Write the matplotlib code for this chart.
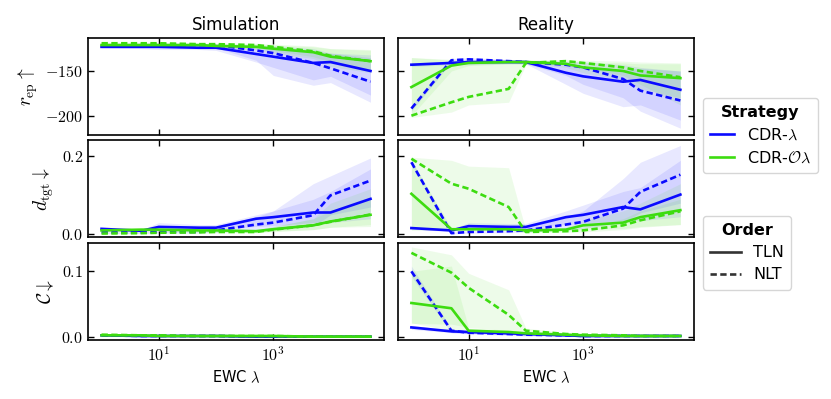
import math
import matplotlib
matplotlib.use("Agg")
import matplotlib.pyplot as plt
from matplotlib.ticker import FixedLocator, FuncFormatter, NullLocator
from matplotlib.lines import Line2D

plt.rcParams['font.family'] = ['DejaVu Sans']
plt.rcParams['mathtext.fontset'] = 'cm'

x = [1, 5, 10, 50, 100, 500, 1000, 5000, 10000, 50000]
columns = ["Simulation", "Reality"]
strategies = ["CDR-$\\lambda$", "CDR-$\\mathcal{O}\\lambda$"]
orders = ["TLN", "NLT"]

# ---- Simulation, r_ep ----
sim_rep_lam_tln = [-123, -123, -123, -124, -124, -131, -134, -141, -140, -150]
sim_rep_lam_tln_lo = [-124, -125, -126, -126, -127, -140, -146, -160, -156, -177]
sim_rep_lam_tln_hi = [-122, -121, -121, -121, -121, -124, -125, -128, -130, -132]
sim_rep_lam_nlt = [-122, -121, -121, -121, -121, -127, -130, -141, -147, -162]
sim_rep_lam_nlt_lo = [-123, -122, -123, -122, -124, -138, -155, -166, -163, -185]
sim_rep_lam_nlt_hi = [-120, -120, -120, -120, -120, -121, -122, -125, -130, -135]
sim_rep_ol_tln = [-121, -121, -121, -121, -122, -123, -125, -129, -134, -139]
sim_rep_ol_tln_lo = [-122, -122, -123, -123, -124, -126, -130, -136, -145, -152]
sim_rep_ol_tln_hi = [-120, -120, -120, -120, -120, -120, -121, -123, -125, -126]
sim_rep_ol_nlt = [-119, -119, -119, -120, -120, -121, -123, -128, -133, -139]
sim_rep_ol_nlt_lo = [-120, -120, -121, -121, -122, -124, -127, -134, -140, -150]
sim_rep_ol_nlt_hi = [-118, -118, -118, -119, -119, -119, -120, -122, -125, -127]

# ---- Reality, r_ep ----
real_rep_lam_tln = [-143, -141, -140, -140, -140, -152, -156, -162, -160, -171]
real_rep_lam_tln_lo = [-145, -143, -143, -142, -142, -165, -175, -190, -188, -205]
real_rep_lam_tln_hi = [-141, -139, -138, -138, -138, -142, -145, -148, -147, -150]
real_rep_lam_nlt = [-192, -138, -137, -139, -140, -143, -146, -159, -172, -183]
real_rep_lam_nlt_lo = [-195, -140, -139, -141, -142, -155, -165, -180, -195, -214]
real_rep_lam_nlt_hi = [-189, -136, -135, -137, -138, -139, -140, -143, -146, -150]
real_rep_ol_tln = [-168, -144, -141, -140, -140, -142, -146, -150, -155, -158]
real_rep_ol_tln_lo = [-200, -150, -144, -142, -142, -146, -152, -160, -170, -180]
real_rep_ol_tln_hi = [-135, -138, -139, -138, -138, -139, -140, -141, -142, -142]
real_rep_ol_nlt = [-200, -185, -179, -170, -141, -139, -141, -146, -150, -157]
real_rep_ol_nlt_lo = [-202, -196, -188, -185, -143, -142, -146, -155, -165, -188]
real_rep_ol_nlt_hi = [-135, -137, -137, -138, -138, -137, -138, -139, -140, -141]

# ---- Simulation, d_tgt ----
sim_d_lam_tln = [0.014, 0.009, 0.019, 0.017, 0.017, 0.040, 0.044, 0.056, 0.056, 0.091]
sim_d_lam_tln_lo = [0.010, 0.006, 0.012, 0.012, 0.012, 0.020, 0.022, 0.030, 0.030, 0.040]
sim_d_lam_tln_hi = [0.018, 0.012, 0.030, 0.025, 0.025, 0.050, 0.060, 0.090, 0.110, 0.168]
sim_d_lam_nlt = [0.005, 0.005, 0.006, 0.006, 0.010, 0.025, 0.030, 0.049, 0.100, 0.138]
sim_d_lam_nlt_lo = [0.003, 0.003, 0.004, 0.004, 0.005, 0.010, 0.012, 0.020, 0.050, 0.070]
sim_d_lam_nlt_hi = [0.008, 0.008, 0.010, 0.010, 0.020, 0.045, 0.060, 0.130, 0.150, 0.196]
sim_d_ol_tln = [0.010, 0.012, 0.012, 0.010, 0.010, 0.008, 0.013, 0.023, 0.033, 0.050]
sim_d_ol_tln_lo = [0.007, 0.009, 0.009, 0.007, 0.007, 0.005, 0.008, 0.012, 0.018, 0.020]
sim_d_ol_tln_hi = [0.013, 0.015, 0.015, 0.013, 0.013, 0.012, 0.020, 0.040, 0.080, 0.117]
sim_d_ol_nlt = [0.002, 0.003, 0.004, 0.005, 0.006, 0.006, 0.012, 0.023, 0.032, 0.051]
sim_d_ol_nlt_lo = [0.001, 0.002, 0.003, 0.003, 0.004, 0.004, 0.007, 0.012, 0.018, 0.025]
sim_d_ol_nlt_hi = [0.004, 0.005, 0.006, 0.007, 0.008, 0.010, 0.020, 0.040, 0.060, 0.090]

# ---- Reality, d_tgt ----
real_d_lam_tln = [0.016, 0.010, 0.021, 0.019, 0.019, 0.044, 0.050, 0.070, 0.064, 0.102]
real_d_lam_tln_lo = [0.013, 0.007, 0.014, 0.013, 0.013, 0.025, 0.028, 0.035, 0.035, 0.045]
real_d_lam_tln_hi = [0.019, 0.013, 0.030, 0.028, 0.028, 0.060, 0.075, 0.110, 0.120, 0.190]
real_d_lam_nlt = [0.185, 0.003, 0.006, 0.008, 0.010, 0.025, 0.032, 0.066, 0.109, 0.153]
real_d_lam_nlt_lo = [0.180, 0.001, 0.003, 0.004, 0.005, 0.012, 0.015, 0.030, 0.055, 0.080]
real_d_lam_nlt_hi = [0.190, 0.005, 0.010, 0.012, 0.020, 0.045, 0.060, 0.143, 0.185, 0.228]
real_d_ol_tln = [0.104, 0.013, 0.013, 0.013, 0.010, 0.012, 0.023, 0.030, 0.044, 0.062]
real_d_ol_tln_lo = [0.020, 0.010, 0.010, 0.010, 0.007, 0.008, 0.012, 0.015, 0.020, 0.025]
real_d_ol_tln_hi = [0.190, 0.016, 0.016, 0.016, 0.013, 0.018, 0.035, 0.060, 0.080, 0.130]
real_d_ol_nlt = [0.194, 0.130, 0.117, 0.070, 0.006, 0.008, 0.010, 0.023, 0.036, 0.059]
real_d_ol_nlt_lo = [0.010, 0.012, 0.012, 0.012, 0.004, 0.005, 0.006, 0.012, 0.018, 0.025]
real_d_ol_nlt_hi = [0.198, 0.190, 0.175, 0.171, 0.010, 0.012, 0.018, 0.040, 0.060, 0.090]

# ---- Simulation, C ----
sim_c_lam_tln = [0.003, 0.002, 0.002, 0.002, 0.002, 0.001, 0.001, 0.001, 0.001, 0.001]
sim_c_lam_tln_lo = [0.002, 0.001, 0.001, 0.001, 0.001, 0.000, 0.000, 0.000, 0.000, 0.000]
sim_c_lam_tln_hi = [0.004, 0.003, 0.003, 0.003, 0.003, 0.002, 0.002, 0.002, 0.002, 0.002]
sim_c_lam_nlt = [0.003, 0.002, 0.002, 0.002, 0.002, 0.001, 0.001, 0.001, 0.001, 0.001]
sim_c_lam_nlt_lo = [0.002, 0.001, 0.001, 0.001, 0.001, 0.000, 0.000, 0.000, 0.000, 0.000]
sim_c_lam_nlt_hi = [0.004, 0.003, 0.003, 0.003, 0.003, 0.002, 0.002, 0.002, 0.002, 0.002]
sim_c_ol_tln = [0.003, 0.003, 0.002, 0.002, 0.002, 0.002, 0.002, 0.001, 0.001, 0.001]
sim_c_ol_tln_lo = [0.002, 0.002, 0.001, 0.001, 0.001, 0.001, 0.001, 0.000, 0.000, 0.000]
sim_c_ol_tln_hi = [0.004, 0.004, 0.003, 0.003, 0.003, 0.003, 0.003, 0.002, 0.002, 0.002]
sim_c_ol_nlt = [0.004, 0.003, 0.003, 0.002, 0.002, 0.002, 0.002, 0.001, 0.001, 0.001]
sim_c_ol_nlt_lo = [0.003, 0.002, 0.002, 0.001, 0.001, 0.001, 0.001, 0.000, 0.000, 0.000]
sim_c_ol_nlt_hi = [0.005, 0.004, 0.004, 0.003, 0.003, 0.003, 0.003, 0.002, 0.002, 0.002]

# ---- Reality, C ----
real_c_lam_tln = [0.015, 0.009, 0.008, 0.006, 0.005, 0.003, 0.002, 0.002, 0.002, 0.002]
real_c_lam_tln_lo = [0.012, 0.007, 0.006, 0.004, 0.003, 0.002, 0.001, 0.001, 0.001, 0.001]
real_c_lam_tln_hi = [0.018, 0.011, 0.010, 0.008, 0.007, 0.004, 0.003, 0.003, 0.003, 0.003]
real_c_lam_nlt = [0.100, 0.010, 0.007, 0.005, 0.004, 0.003, 0.002, 0.002, 0.002, 0.002]
real_c_lam_nlt_lo = [0.092, 0.007, 0.005, 0.003, 0.002, 0.002, 0.001, 0.001, 0.001, 0.001]
real_c_lam_nlt_hi = [0.108, 0.013, 0.009, 0.007, 0.006, 0.004, 0.003, 0.003, 0.003, 0.003]
real_c_ol_tln = [0.052, 0.044, 0.010, 0.008, 0.006, 0.004, 0.003, 0.002, 0.002, 0.002]
real_c_ol_tln_lo = [0.022, 0.010, 0.006, 0.005, 0.004, 0.003, 0.002, 0.001, 0.001, 0.001]
real_c_ol_tln_hi = [0.100, 0.108, 0.014, 0.011, 0.008, 0.005, 0.004, 0.003, 0.003, 0.003]
real_c_ol_nlt = [0.128, 0.098, 0.075, 0.034, 0.010, 0.005, 0.004, 0.003, 0.002, 0.002]
real_c_ol_nlt_lo = [0.021, 0.020, 0.015, 0.010, 0.006, 0.003, 0.002, 0.002, 0.001, 0.001]
real_c_ol_nlt_hi = [0.137, 0.125, 0.097, 0.072, 0.014, 0.007, 0.006, 0.004, 0.003, 0.003]

panels = [
    [  # row r_ep
        [(sim_rep_lam_tln, sim_rep_lam_tln_lo, sim_rep_lam_tln_hi),
         (sim_rep_lam_nlt, sim_rep_lam_nlt_lo, sim_rep_lam_nlt_hi),
         (sim_rep_ol_tln, sim_rep_ol_tln_lo, sim_rep_ol_tln_hi),
         (sim_rep_ol_nlt, sim_rep_ol_nlt_lo, sim_rep_ol_nlt_hi)],
        [(real_rep_lam_tln, real_rep_lam_tln_lo, real_rep_lam_tln_hi),
         (real_rep_lam_nlt, real_rep_lam_nlt_lo, real_rep_lam_nlt_hi),
         (real_rep_ol_tln, real_rep_ol_tln_lo, real_rep_ol_tln_hi),
         (real_rep_ol_nlt, real_rep_ol_nlt_lo, real_rep_ol_nlt_hi)],
    ],
    [  # row d_tgt
        [(sim_d_lam_tln, sim_d_lam_tln_lo, sim_d_lam_tln_hi),
         (sim_d_lam_nlt, sim_d_lam_nlt_lo, sim_d_lam_nlt_hi),
         (sim_d_ol_tln, sim_d_ol_tln_lo, sim_d_ol_tln_hi),
         (sim_d_ol_nlt, sim_d_ol_nlt_lo, sim_d_ol_nlt_hi)],
        [(real_d_lam_tln, real_d_lam_tln_lo, real_d_lam_tln_hi),
         (real_d_lam_nlt, real_d_lam_nlt_lo, real_d_lam_nlt_hi),
         (real_d_ol_tln, real_d_ol_tln_lo, real_d_ol_tln_hi),
         (real_d_ol_nlt, real_d_ol_nlt_lo, real_d_ol_nlt_hi)],
    ],
    [  # row C
        [(sim_c_lam_tln, sim_c_lam_tln_lo, sim_c_lam_tln_hi),
         (sim_c_lam_nlt, sim_c_lam_nlt_lo, sim_c_lam_nlt_hi),
         (sim_c_ol_tln, sim_c_ol_tln_lo, sim_c_ol_tln_hi),
         (sim_c_ol_nlt, sim_c_ol_nlt_lo, sim_c_ol_nlt_hi)],
        [(real_c_lam_tln, real_c_lam_tln_lo, real_c_lam_tln_hi),
         (real_c_lam_nlt, real_c_lam_nlt_lo, real_c_lam_nlt_hi),
         (real_c_ol_tln, real_c_ol_tln_lo, real_c_ol_tln_hi),
         (real_c_ol_nlt, real_c_ol_nlt_lo, real_c_ol_nlt_hi)],
    ],
]

row_labels = [r"$r_{\mathrm{ep}}\uparrow$", r"$d_{\mathrm{tgt}}\downarrow$", r"$\mathcal{C}\downarrow$"]
row_yticks = [[-200, -150], [0.0, 0.2], [0.0, 0.1]]
row_ylims = [(-221.5, -113), (-0.008, 0.241), (-0.004, 0.143)]
xticks = [10, 1000]

blue = '#0a0aff'
green = '#3ddc10'
series_colors = [blue, blue, green, green]
dash = (0, (2.4, 1.3))
series_styles = ['-', dash, '-', dash]

fig = plt.figure(figsize=(8.31, 3.99), dpi=100)
axes = fig.subplots(3, 2, sharex=True)
fig.subplots_adjust(left=0.106, right=0.835, top=0.905, bottom=0.148, wspace=0.047, hspace=0.057)


def yfmt(v, pos):
    if abs(v) < 1e-12:
        return r"$0.0$"
    if abs(v) >= 10:
        return r"$%d$" % v if v >= 0 else r"$-%d$" % (-v)
    return r"$%.1f$" % v


def xfmt(v, pos):
    e = int(round(math.log10(v)))
    return r"$10^{%d}$" % e


for r in range(3):
    for c in range(2):
        ax = axes[r][c]
        for k, (m, lo, hi) in enumerate(panels[r][c]):
            ax.fill_between(x, lo, hi, color=series_colors[k], alpha=0.09, lw=0)
        for k, (m, lo, hi) in enumerate(panels[r][c]):
            ax.plot(x, m, color=series_colors[k], linestyle=series_styles[k], lw=1.9)
        ax.set_xscale('log')
        ax.set_xlim(10 ** -0.235, 10 ** 4.935)
        ax.set_ylim(*row_ylims[r])
        ax.xaxis.set_major_locator(FixedLocator(xticks))
        ax.xaxis.set_minor_locator(NullLocator())
        ax.xaxis.set_major_formatter(FuncFormatter(xfmt))
        ax.yaxis.set_major_locator(FixedLocator(row_yticks[r]))
        ax.yaxis.set_major_formatter(FuncFormatter(yfmt))
        ax.tick_params(direction='in', top=True, right=True, length=4, width=1.0, labelsize=11.5)
        for s in ax.spines.values():
            s.set_linewidth(1.2)
        if c == 1:
            ax.tick_params(labelleft=False)
        else:
            ax.set_ylabel(row_labels[r], fontsize=14, labelpad=4)
        if r == 0:
            ax.set_title(columns[c], fontsize=12, pad=6)
        if r == 2:
            ax.set_xlabel(r"EWC $\lambda$", fontsize=10.5)

strat_handles = [Line2D([], [], color=blue, lw=1.9), Line2D([], [], color=green, lw=1.9)]
leg1 = fig.legend(strat_handles, strategies, title="Strategy", loc='upper left',
                  bbox_to_anchor=(0.846, 0.754), borderaxespad=0.0, fontsize=11.5,
                  title_fontproperties={'weight': 'bold', 'size': 11.5},
                  handlelength=1.5, handletextpad=0.8, edgecolor='#cccccc', borderpad=0.45,
                  labelspacing=0.45)
order_handles = [Line2D([], [], color='#333333', lw=1.9, linestyle='-'),
                 Line2D([], [], color='#333333', lw=1.9, linestyle=dash)]
leg2 = fig.legend(order_handles, orders, title="Order", loc='upper left',
                  bbox_to_anchor=(0.846, 0.459), borderaxespad=0.0, fontsize=11.5,
                  title_fontproperties={'weight': 'bold', 'size': 11.5},
                  handlelength=1.9, handletextpad=0.8, edgecolor='#cccccc', borderpad=0.45,
                  labelspacing=0.45)

fig.savefig("out.png", dpi=100)
